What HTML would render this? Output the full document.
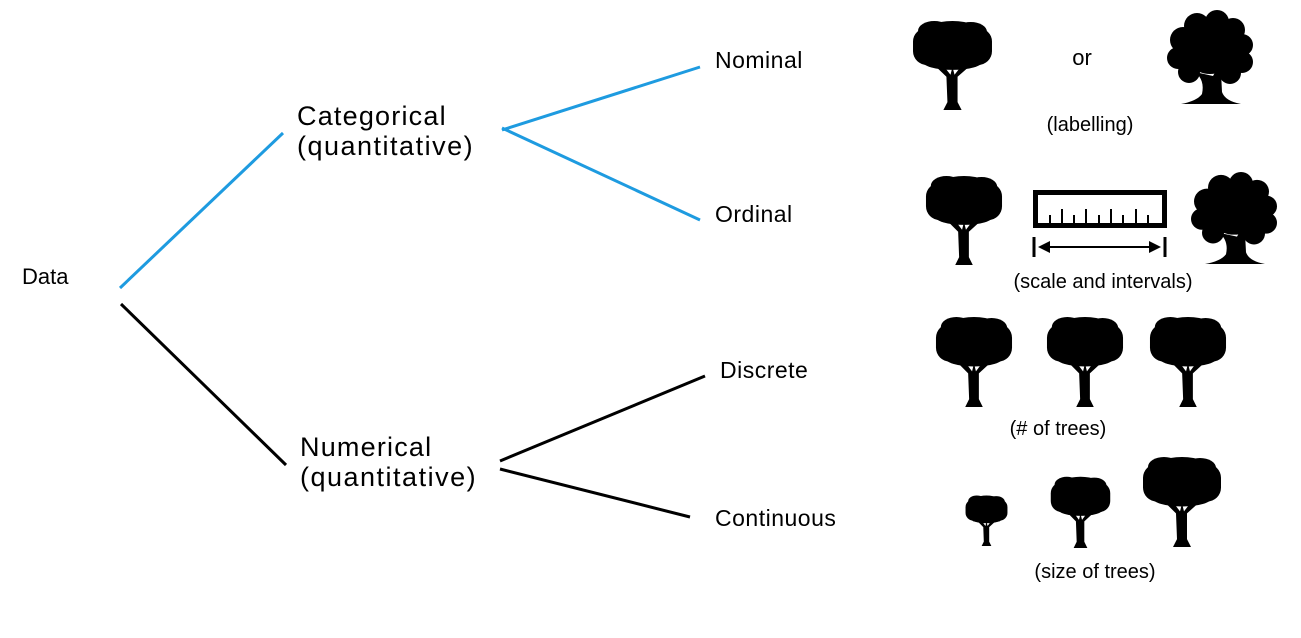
<!DOCTYPE html>
<html><head><meta charset="utf-8"><style>
html,body{margin:0;padding:0;background:#fff;}
svg{display:block;}
text{font-family:"Liberation Sans",sans-serif;fill:#000;}
</style></head><body>
<svg width="1301" height="638" viewBox="0 0 1301 638" xmlns="http://www.w3.org/2000/svg">
<defs>
<symbol id="ta" viewBox="0 0 80 92" preserveAspectRatio="none">
<g fill="#000">
<rect x="1" y="8" width="78" height="38" rx="14"/>
<ellipse cx="40" cy="14" rx="30" ry="13"/>
<ellipse cx="22" cy="11" rx="16" ry="10"/>
<ellipse cx="58" cy="12" rx="16" ry="10"/>
<ellipse cx="40" cy="42" rx="30" ry="9"/>
<path d="M24 48 L34 58 L35 84 L31 92 L49 92 L45 84 L45 58 L56 48 L48 48 L42 56 L40 48 L38 56 L32 48 Z"/>
</g>
</symbol>
<symbol id="tb" viewBox="0 0 90 95" preserveAspectRatio="none">
<g fill="#000">
<circle cx="45" cy="36" r="28"/>
<circle cx="32" cy="16" r="13"/><circle cx="52" cy="12" r="12"/><circle cx="68" cy="20" r="12"/>
<circle cx="77" cy="35" r="11"/><circle cx="77" cy="52" r="11"/><circle cx="65" cy="63" r="11"/>
<circle cx="18" cy="30" r="13"/><circle cx="13" cy="48" r="11"/><circle cx="24" cy="62" r="11"/>
<path d="M30 62 Q40 70 37 84 Q32 91 16 94 L76 94 Q60 91 57 82 L56 62 Q52 58 48 66 Z"/>
</g>
</symbol>
</defs>

<g stroke="#1e9be0" stroke-width="3" fill="none">
<line x1="120" y1="288" x2="283" y2="133"/>
<line x1="502" y1="130" x2="700" y2="67"/>
<line x1="502" y1="128" x2="700" y2="220"/>
</g>
<g stroke="#000" stroke-width="3" fill="none">
<line x1="121" y1="304" x2="286" y2="465"/>
<line x1="500" y1="461" x2="705" y2="376"/>
<line x1="500" y1="469" x2="690" y2="517"/>
</g>

<text x="22" y="284" font-size="22">Data</text>
<text x="297" y="125" font-size="27" letter-spacing="1.2">Categorical</text>
<text x="297" y="155" font-size="27" letter-spacing="1.5">(quantitative)</text>
<text x="300" y="456" font-size="27" letter-spacing="1.2">Numerical</text>
<text x="300" y="486" font-size="27" letter-spacing="1.5">(quantitative)</text>
<text x="715" y="68" font-size="23" letter-spacing="0.5">Nominal</text>
<text x="715" y="222" font-size="23" letter-spacing="0.5">Ordinal</text>
<text x="720" y="378" font-size="23" letter-spacing="0.5">Discrete</text>
<text x="715" y="526" font-size="23" letter-spacing="0.5">Continuous</text>

<text x="1082" y="65" font-size="22" text-anchor="middle">or</text>
<text x="1090" y="131" font-size="20" text-anchor="middle">(labelling)</text>
<text x="1103" y="288" font-size="20" text-anchor="middle">(scale and intervals)</text>
<text x="1058" y="435" font-size="20" text-anchor="middle">(# of trees)</text>
<text x="1095" y="578" font-size="20" text-anchor="middle">(size of trees)</text>

<use href="#ta" x="912" y="20" width="81" height="90"/>
<use href="#tb" x="1165" y="10" width="90" height="95"/>
<use href="#ta" x="925" y="175" width="78" height="90"/>
<use href="#tb" x="1189" y="172" width="90" height="93"/>
<use href="#ta" x="935" y="316" width="78" height="91"/>
<use href="#ta" x="1046" y="316" width="78" height="91"/>
<use href="#ta" x="1149" y="316" width="78" height="91"/>
<use href="#ta" x="965" y="495" width="43" height="51"/>
<use href="#ta" x="1050" y="476" width="61" height="72"/>
<use href="#ta" x="1142" y="456" width="80" height="91"/>

<rect x="1035.5" y="192.5" width="129" height="33" fill="none" stroke="#000" stroke-width="5"/>
<g stroke="#000" stroke-width="2">
<line x1="1050" y1="223" x2="1050" y2="215"/>
<line x1="1062" y1="223" x2="1062" y2="209"/>
<line x1="1074" y1="223" x2="1074" y2="215"/>
<line x1="1086" y1="223" x2="1086" y2="209"/>
<line x1="1099" y1="223" x2="1099" y2="215"/>
<line x1="1111" y1="223" x2="1111" y2="209"/>
<line x1="1123" y1="223" x2="1123" y2="215"/>
<line x1="1136" y1="223" x2="1136" y2="209"/>
<line x1="1148" y1="223" x2="1148" y2="215"/>
<line x1="1034" y1="237" x2="1034" y2="257" stroke-width="3"/>
<line x1="1165" y1="237" x2="1165" y2="257" stroke-width="3"/>
<line x1="1045" y1="247" x2="1154" y2="247"/>
</g>
<polygon points="1038,247 1050,241 1050,253" fill="#000"/>
<polygon points="1161,247 1149,241 1149,253" fill="#000"/>
</svg>
</body></html>
